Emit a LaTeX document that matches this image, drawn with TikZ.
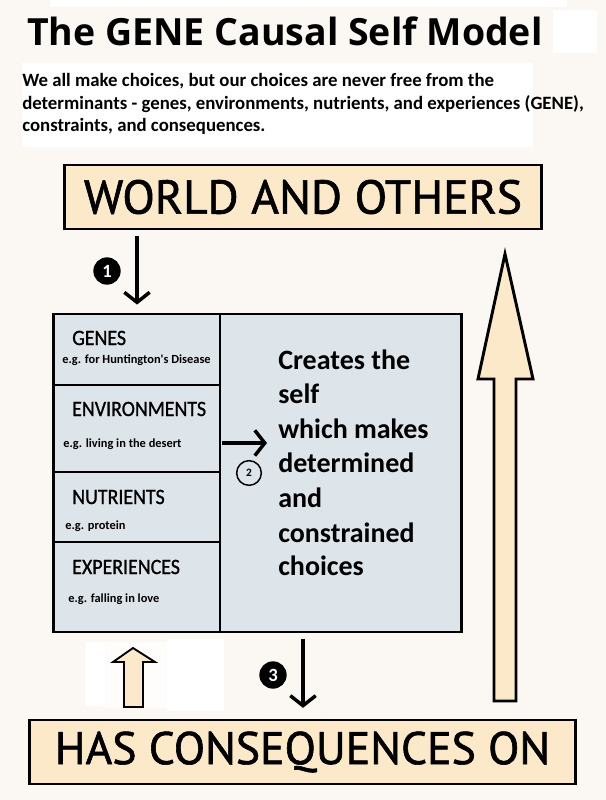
\documentclass[tikz,border=0pt]{standalone}
\usepackage{fontspec}
\setmainfont{Carlito}
\newfontfamily\titlefont{Open Sans}
\newfontfamily\bannerfont[FakeBold=1.3]{PT Sans}
\newfontfamily\labelfont[FakeStretch=0.91, FakeBold=0.9]{Carlito}
\usetikzlibrary{arrows.meta}

\definecolor{paper}{RGB}{251,247,242}
\definecolor{cream}{RGB}{251,233,202}
\definecolor{slate}{RGB}{221,228,234}
\definecolor{patch}{RGB}{254,253,251}

\begin{document}
\begin{tikzpicture}[x=0.75pt, y=-0.75pt,
    banner/.style={draw=black, line width=2.2pt, fill=cream, inner sep=0pt,
      font=\bannerfont\fontsize{34.3}{36}\selectfont},
    flow/.style={draw=black, line width=2.6pt, -{Straight Barb[length=7.5pt, width=19pt, line width=2.6pt]}},
    badge/.style={circle, fill=black, text=white, inner sep=0pt, minimum size=20.5pt,
      font=\bfseries\fontsize{14}{14}\selectfont},
    ring/.style={circle, draw=black, line width=1.1pt, inner sep=0pt, minimum size=18.5pt,
      font=\bfseries\fontsize{8.5}{8.5}\selectfont},
    factor/.style={anchor=base west, inner sep=0pt, font=\labelfont\fontsize{16.4}{16}\selectfont},
    example/.style={anchor=base west, inner sep=0pt, font=\bfseries\fontsize{9.3}{10}\selectfont},
    selfline/.style={anchor=base west, inner sep=0pt, font=\bfseries\fontsize{21}{21}\selectfont},
    intro/.style={anchor=base west, inner sep=0pt, font=\bfseries\fontsize{14.1}{14}\selectfont}]

    % Fondo
    \useasboundingbox (0,0) rectangle (606,800);
    \fill[paper] (0,0) rectangle (606,800);

    % Parches blancos
    \fill[white] (50,0) rectangle (567,7);
    \fill[white] (553,10) rectangle (597,53);
    \fill[white] (22,63) rectangle (533,147);
    \fill[white] (85,642) rectangle (105,706);
    \fill[patch] (105,642) rectangle (167,708);
    \fill[white] (167,639) rectangle (224,711);

    % Titulo y texto
    \node[anchor=base west, inner sep=0pt, font=\titlefont\bfseries\fontsize{28.1}{29}\selectfont] (title) at (27,45) {The GENE Causal Self Model};
    \node[intro] (intro1) at (22,86) {We all make choices, but our choices are never free from the};
    \node[intro] (intro2) at (22,109) {determinants - genes, environments, nutrients, and experiences (GENE),};
    \node[intro] (intro3) at (22,131) {constraints, and consequences.};

    % Cajas de arriba y abajo
    \node[banner, font=\bannerfont\fontsize{35.6}{36}\selectfont, minimum width=358pt, minimum height=48pt] (world) at (303,197) {WORLD AND OTHERS};
    \node[banner, minimum width=410pt, minimum height=48pt] (has) at (302.5,752) {HAS CONSEQUENCES ON};

    % Caja central
    \node[draw=black, line width=2.2pt, fill=slate, minimum width=306pt, minimum height=238.5pt] (core) at (257.5,473) {};
    \coordinate (split) at (220,0);
    \draw[black, line width=1.6pt] (core.north -| split) -- (core.south -| split);
    \draw[black, line width=1.1pt] (core.west |- 0,385) -- (split |- 0,385);
    \draw[black, line width=1.1pt] (core.west |- 0,472) -- (split |- 0,472);
    \draw[black, line width=1.1pt] (core.west |- 0,542) -- (split |- 0,542);

    % Factores GENE
    \node[factor] (genes) at (72,345) {GENES};
    \node[example] (genesEx) at (62,363) {e.g. for Huntington\textquotesingle s Disease};
    \node[factor] (env) at (72,416) {ENVIRONMENTS};
    \node[example] (envEx) at (63,447) {e.g. living in the desert};
    \node[factor] (nutr) at (72,504) {NUTRIENTS};
    \node[example] (nutrEx) at (65,529) {e.g. protein};
    \node[factor] (exp) at (72,574) {EXPERIENCES};
    \node[example] (expEx) at (68,602) {e.g. falling in love};

    % El yo
    \node[selfline] (self1) at (278,369) {Creates the};
    \node[selfline] (self2) at (278,403) {self};
    \node[selfline] (self3) at (278,438) {which makes};
    \node[selfline] (self4) at (278,472) {determined};
    \node[selfline] (self5) at (278,507) {and};
    \node[selfline] (self6) at (278,542) {constrained};
    \node[selfline] (self7) at (278,575) {choices};

    % Flechas numeradas
    \coordinate (down1) at (137,0);
    \draw[flow, shorten <=4.5pt, shorten >=6pt] (world.south -| down1) -- (core.north -| down1);
    \node[badge] (one) at (107,271) {1};

    \coordinate (right2) at (267,443);
    \draw[flow, shorten <=1.5pt] (split |- right2) -- (right2);
    \node[ring] (two) at (249,473) {2};

    \coordinate (down3) at (303,0);
    \draw[flow, shorten <=4.5pt, shorten >=8pt] (core.south -| down3) -- (has.north -| down3);
    \node[badge] (three) at (273,675) {3};

    % Flecha grande de retorno
    \draw[black, line width=2.2pt, fill=cream, miter limit=8]
        (505,254) -- (533,379) -- (516,379) -- (516,701) -- (494,701)
        -- (494,379) -- (478,379) -- cycle;

    % Flecha pequena
    \draw[black, line width=1.4pt, fill=cream]
        (133,648) -- (155,662) -- (143,662) -- (143,707) -- (124,707)
        -- (124,662) -- (113,662) -- cycle;
\end{tikzpicture}
\end{document}
